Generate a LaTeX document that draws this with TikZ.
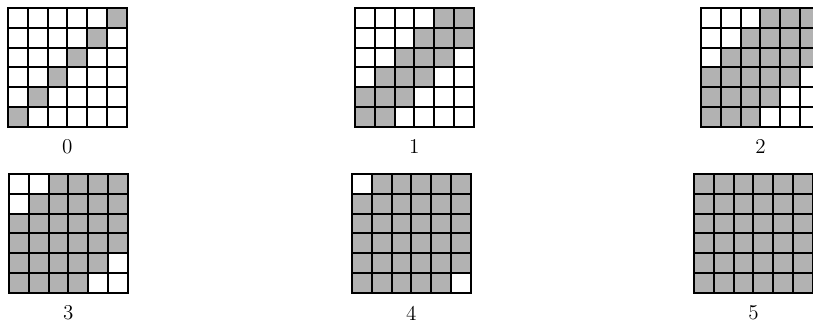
\documentclass[tikz,border=0pt]{standalone}
\usetikzlibrary{positioning}
\newcommand\Cell{19.8}
\tikzset{
  cellon/.style={
    fill = black!30
  },
  gridline/.style={
    line width = 1.2pt,
    line cap = rect
  },
  steplabel/.style={
    font = \large,
    inner sep = 1pt
  }
}

\begin{document}
\begin{tikzpicture}[x=0.02cm,y=-0.02cm]
  \useasboundingbox (0,0) rectangle (813,322);

  \foreach \k/\ox/\oy in {0/8/8,1/355/8,2/701/8,3/9/174,4/352/174,5/694/174}{
    \begin{scope}[shift={(\ox,\oy)}]
      % shaded band around the anti-diagonal
      \foreach \r in {0,...,5}
        \foreach \c in {0,...,5}{
          \pgfmathtruncatemacro\dd{abs(\r+\c-5)}
          \ifnum\dd>\k\relax\else
            \fill[cellon] (\c*\Cell,\r*\Cell) rectangle ++(\Cell,\Cell);
          \fi
        }
      % grid lines
      \foreach \i in {0,...,6}{
        \draw[gridline] (\i*\Cell,0) -- (\i*\Cell,6*\Cell);
        \draw[gridline] (0,\i*\Cell) -- (6*\Cell,\i*\Cell);
      }
      \coordinate (g\k) at (3*\Cell,6*\Cell);
      \node[steplabel, below=0.22cm of g\k] (lbl\k) {\k};
    \end{scope}
  }
\end{tikzpicture}
\end{document}
